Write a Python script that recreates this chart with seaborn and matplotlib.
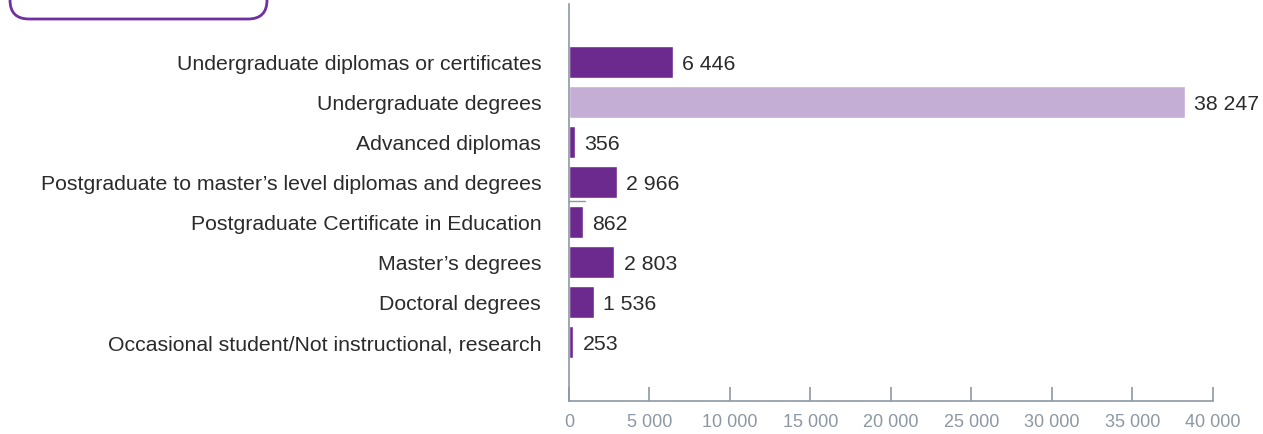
import matplotlib
matplotlib.use("Agg")
import matplotlib.pyplot as plt
import seaborn as sns
import pandas as pd
from matplotlib.patches import FancyBboxPatch

categories = [
    "Undergraduate diplomas or certificates",
    "Undergraduate degrees",
    "Advanced diplomas",
    "Postgraduate to master\u2019s level diplomas and degrees",
    "Postgraduate Certificate in Education",
    "Master\u2019s degrees",
    "Doctoral degrees",
    "Occasional student/Not instructional, research",
]
values = [6446, 38247, 356, 2966, 862, 2803, 1536, 253]
highlight = [False, True, False, False, False, False, False, False]
xticks = [0, 5000, 10000, 15000, 20000, 25000, 30000, 35000, 40000]

dark = "#6C2A8E"
light = "#C4AED5"
text_c = "#2b2b2b"
axis_c = "#8C98A3"

sns.set_theme(style="white")
plt.rcParams["font.family"] = ["Liberation Sans", "DejaVu Sans"]

df = pd.DataFrame({"cat": categories, "val": values,
                   "hl": ["hl" if h else "n" for h in highlight]})

fig = plt.figure(figsize=(12.63, 4.35), dpi=100)
ax = fig.add_axes([0.4505, 0.0759, 0.5099, 0.9126])
sns.barplot(data=df, y="cat", x="val", hue="hl", palette={"hl": light, "n": dark},
            orient="h", width=0.8, dodge=False, legend=False, ax=ax, saturation=1)

def fmt(v):
    return f"{v:,}".replace(",", " ")

for i, v in enumerate(values):
    ax.text(v + 600, i, fmt(v), va="center_baseline", ha="left", fontsize=15.3, color=text_c)

ax.set_xlim(0, 40000)
ax.set_ylim(8.475, -1.45)
ax.set_xticks(xticks)
ax.set_xticklabels([fmt(t) for t in xticks], color=axis_c, fontsize=13)
ax.tick_params(axis="x", bottom=True, direction="in", length=10, width=1.2,
               color=axis_c, pad=8.5)
ax.tick_params(axis="y", left=False, length=0, pad=20, labelsize=15.3, labelcolor=text_c)
ax.set_xlabel("")
ax.set_ylabel("")
for s in ["top", "right"]:
    ax.spines[s].set_visible(False)
for s in ["left", "bottom"]:
    ax.spines[s].set_color(axis_c)
    ax.spines[s].set_linewidth(1.2)

# small gray stub near the PGCE bar
ax.plot([0, 1000], [3.48, 3.48], color=axis_c, lw=1, clip_on=False)

# rounded box outline at top-left (partially cropped)
box = FancyBboxPatch((10 / 1263, 1 - 20 / 435), 257 / 1263, 60 / 435,
                     boxstyle="round,pad=0,rounding_size=0.015",
                     transform=fig.transFigure, fill=False,
                     edgecolor="#7030A0", lw=2, mutation_aspect=1263 / 435)
fig.patches.append(box)

fig.savefig("out.png", dpi=100)
